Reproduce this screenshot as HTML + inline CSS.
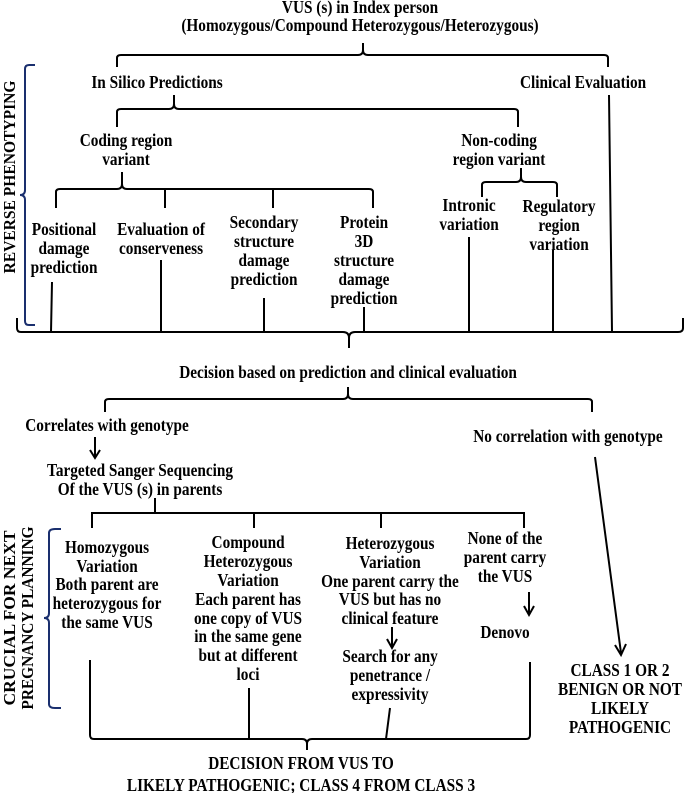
<!DOCTYPE html>
<html><head><meta charset="utf-8"><style>
html,body{margin:0;padding:0;background:#fff}
svg{display:block}
text{font-family:"Liberation Serif",serif;font-weight:bold;font-size:18px;fill:#000;text-anchor:middle}
.t{transform-box:fill-box;transform-origin:center;transform:scaleX(0.85)}
.v{font-size:17px}
.l{stroke:#000;stroke-width:2;fill:none}
.b{stroke:#1a2f6e;stroke-width:2;fill:none}
</style></head><body>
<svg width="685" height="793" viewBox="0 0 685 793" xmlns="http://www.w3.org/2000/svg">
<g>
<text class="t" x="360" y="13">VUS (s) in Index person</text>
<text class="t" x="360" y="31">(Homozygous/Compound Heterozygous/Heterozygous)</text>
<text class="t" x="157" y="88">In Silico Predictions</text>
<text class="t" x="583" y="88">Clinical Evaluation</text>
<text class="t" x="126" y="146">Coding region</text>
<text class="t" x="126" y="165">variant</text>
<text class="t" x="499" y="146">Non-coding</text>
<text class="t" x="499" y="165">region variant</text>
<text class="t" x="64" y="235">Positional</text>
<text class="t" x="64" y="254">damage</text>
<text class="t" x="64" y="273">prediction</text>
<text class="t" x="161" y="235">Evaluation of</text>
<text class="t" x="161" y="254">conserveness</text>
<text class="t" x="264" y="228">Secondary</text>
<text class="t" x="264" y="247">structure</text>
<text class="t" x="264" y="266">damage</text>
<text class="t" x="264" y="285">prediction</text>
<text class="t" x="364" y="228">Protein</text>
<text class="t" x="364" y="247">3D</text>
<text class="t" x="364" y="266">structure</text>
<text class="t" x="364" y="285">damage</text>
<text class="t" x="364" y="304">prediction</text>
<text class="t" x="469" y="211">Intronic</text>
<text class="t" x="469" y="230">variation</text>
<text class="t" x="559" y="212">Regulatory</text>
<text class="t" x="559" y="231">region</text>
<text class="t" x="559" y="250">variation</text>
<text class="t" x="348" y="378">Decision based on prediction and clinical evaluation</text>
<text class="t" x="107" y="431">Correlates with genotype</text>
<text class="t" x="568" y="442">No correlation with genotype</text>
<text class="t" x="140" y="476">Targeted Sanger Sequencing</text>
<text class="t" x="140" y="495">Of the VUS (s) in parents</text>
<text class="t" x="107" y="553">Homozygous</text>
<text class="t" x="107" y="572">Variation</text>
<text class="t" x="107" y="590">Both parent are</text>
<text class="t" x="107" y="609">heterozygous for</text>
<text class="t" x="107" y="628">the same VUS</text>
<text class="t" x="248" y="548">Compound</text>
<text class="t" x="248" y="567">Heterozygous</text>
<text class="t" x="248" y="586">Variation</text>
<text class="t" x="248" y="605">Each parent has</text>
<text class="t" x="248" y="624">one copy of VUS</text>
<text class="t" x="248" y="642">in the same gene</text>
<text class="t" x="248" y="661">but at different</text>
<text class="t" x="248" y="680">loci</text>
<text class="t" x="390" y="549">Heterozygous</text>
<text class="t" x="390" y="568">Variation</text>
<text class="t" x="390" y="587">One parent carry the</text>
<text class="t" x="390" y="605">VUS but has no</text>
<text class="t" x="390" y="624">clinical feature</text>
<text class="t" x="390" y="662">Search for any</text>
<text class="t" x="390" y="681">penetrance /</text>
<text class="t" x="390" y="700">expressivity</text>
<text class="t" x="505" y="544">None of the</text>
<text class="t" x="505" y="563">parent carry</text>
<text class="t" x="505" y="582">the VUS</text>
<text class="t" x="505" y="638">Denovo</text>
<text class="t" x="620" y="676">CLASS 1 OR 2</text>
<text class="t" x="620" y="695">BENIGN OR NOT</text>
<text class="t" x="620" y="714">LIKELY</text>
<text class="t" x="620" y="733">PATHOGENIC</text>
<text class="t" x="301" y="769">DECISION FROM VUS TO</text>
<text class="t" x="301" y="791">LIKELY PATHOGENIC; CLASS 4 FROM CLASS 3</text>
</g>
<text class="v" x="0" y="0" transform="translate(15,177) rotate(-90)" textLength="193" lengthAdjust="spacingAndGlyphs">REVERSE PHENOTYPING</text>
<text class="v" x="0" y="0" transform="translate(15,618) rotate(-90)" textLength="175" lengthAdjust="spacingAndGlyphs">CRUCIAL FOR NEXT</text>
<text class="v" x="0" y="0" transform="translate(33,618) rotate(-90)" textLength="183" lengthAdjust="spacingAndGlyphs">PREGNANCY PLANNING</text>

<path class="l" d="M117,67 V58 Q117,55 121,55 H358 Q363,55 363,50 V43 M363,50 Q363,55 368,55 H604 Q608,55 608,58 V67"/>
<path class="l" d="M117,127 V112 Q117,109 121,109 H169 Q174,109 174,104 V95 M174,104 Q174,109 179,109 H514 Q518,109 518,112 V127"/>
<path class="l" d="M56,208 V192 Q56,189 60,189 H117 Q122,189 122,184 V172 M122,184 Q122,189 127,189 H369 Q373,189 373,192 V208 M165,189 V208 M273,189 V208"/>
<path class="l" d="M482,197 V185 Q482,182 486,182 H516 Q521,182 521,177 V168 M521,177 Q521,182 526,182 H553 Q557,182 557,185 V197"/>
<path class="l" d="M52,282 L51,332 M161,260 V332 M264,298 V332 M364,307 V332 M469,237 V332 M553,250 V332 M609,95 L612,332"/>
<path class="l" d="M17,318 V328 Q17,332 21,332 H343 Q349,332 349,338 V348 M349,338 Q349,332 355,332 H678 Q683,332 683,328 V318"/>
<path class="b" d="M35,65 H29 Q25,65 25,69 V190 Q25,195 20,195 Q25,195 25,200 V321 Q25,325 29,325 H35"/>
<path class="l" d="M105,412 V402 Q105,399 109,399 H343 Q348,399 348,394 V387 M348,394 Q348,399 353,399 H588 Q592,399 592,402 V412"/>
<path class="l" d="M95,437 V456 M90,450 L95,458 L100,450"/>
<path class="l" d="M595,457 L621,653 M615,645 L621,655 L626,644"/>
<path class="l" d="M392,627 V646 M387,639 L392,648 L397,639"/>
<path class="l" d="M529,592 V613 M524,606 L529,615 L534,606"/>
<path class="l" d="M155,498 V513 M92,528 V513 H524 V528 M254,513 V528 M381,513 V528"/>
<path class="b" d="M61,529 H55 Q49,529 49,533 V613 Q49,618 44,618 Q49,618 49,623 V704 Q49,708 55,708 H61"/>
<path class="l" d="M90,660 V735 Q90,739 94,739 H302 Q307,739 307,744 V750 M307,744 Q307,739 312,739 H526 Q530,739 530,735 V662 M249,688 V739 M390,708 L386,739"/>
</svg>
</body></html>
